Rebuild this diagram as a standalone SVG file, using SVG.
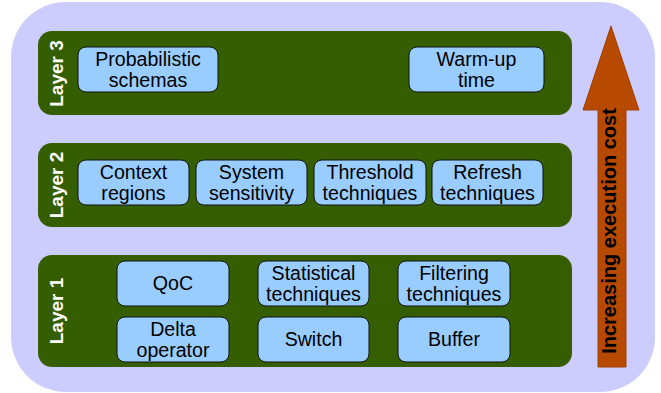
<svg xmlns="http://www.w3.org/2000/svg" width="661" height="393" viewBox="0 0 661 393">
<style>
.bg{fill:#CCCCFF;}
.layer{fill:#355E00;}
.box{fill:#99CCFF;stroke:#111;stroke-width:1;}
.t{font-family:"Liberation Sans",Arial,sans-serif;font-size:19.6px;fill:#000;text-anchor:middle;}
.lt{font-family:"Liberation Sans",Arial,sans-serif;font-size:19px;font-weight:bold;fill:#fff;text-anchor:middle;}
.at{font-family:"Liberation Sans",Arial,sans-serif;font-size:20px;font-weight:bold;fill:#000;text-anchor:middle;}
</style>
<rect class="bg" x="11" y="2" width="644" height="390" rx="55" ry="55"/>
<g id="layer3">
<rect class="layer" x="38" y="31" width="534" height="84" rx="14"/>
<text class="lt" transform="translate(63,73.5) rotate(-90)">Layer 3</text>
</g>
<g id="layer2">
<rect class="layer" x="38" y="143" width="534" height="84" rx="14"/>
<text class="lt" transform="translate(63,185) rotate(-90)">Layer 2</text>
</g>
<g id="layer1">
<rect class="layer" x="38" y="255" width="534" height="112" rx="14"/>
<text class="lt" transform="translate(63,311) rotate(-90)">Layer 1</text>
</g>
<g id="probabilistic">
<rect class="box" x="78" y="47" width="140" height="45" rx="8"/>
<text class="t" x="148" y="66">Probabilistic</text>
<text class="t" x="148" y="87">schemas</text>
</g>
<g id="warmup">
<rect class="box" x="409" y="47" width="135" height="45" rx="8"/>
<text class="t" x="476.5" y="66">Warm-up</text>
<text class="t" x="476.5" y="87">time</text>
</g>
<g id="context">
<rect class="box" x="78" y="160" width="111" height="45" rx="8"/>
<text class="t" x="133.5" y="179">Context</text>
<text class="t" x="133.5" y="200">regions</text>
</g>
<g id="system">
<rect class="box" x="196" y="160" width="111" height="45" rx="8"/>
<text class="t" x="251.5" y="179">System</text>
<text class="t" x="251.5" y="200">sensitivity</text>
</g>
<g id="threshold">
<rect class="box" x="314" y="160" width="112" height="45" rx="8"/>
<text class="t" x="370" y="179">Threshold</text>
<text class="t" x="370" y="200">techniques</text>
</g>
<g id="refresh">
<rect class="box" x="432" y="160" width="111" height="45" rx="8"/>
<text class="t" x="487.5" y="179">Refresh</text>
<text class="t" x="487.5" y="200">techniques</text>
</g>
<g id="qoc">
<rect class="box" x="117" y="261" width="112" height="45" rx="8"/>
<text class="t" x="173" y="290">QoC</text>
</g>
<g id="statistical">
<rect class="box" x="258" y="261" width="111" height="45" rx="8"/>
<text class="t" x="313.5" y="280">Statistical</text>
<text class="t" x="313.5" y="301">techniques</text>
</g>
<g id="filtering">
<rect class="box" x="398" y="261" width="112" height="45" rx="8"/>
<text class="t" x="454" y="280">Filtering</text>
<text class="t" x="454" y="301">techniques</text>
</g>
<g id="delta">
<rect class="box" x="117" y="317" width="112" height="45" rx="8"/>
<text class="t" x="173" y="336">Delta</text>
<text class="t" x="173" y="357">operator</text>
</g>
<g id="switch">
<rect class="box" x="258" y="317" width="111" height="45" rx="8"/>
<text class="t" x="313.5" y="346">Switch</text>
</g>
<g id="buffer">
<rect class="box" x="398" y="317" width="112" height="45" rx="8"/>
<text class="t" x="454" y="346">Buffer</text>
</g>
<g id="connectors">
<g id="cost-arrow">
<polygon points="611,26 639,110 626,110 626,367 598,367 598,110 583,110" fill="#B84A00" stroke="#A04000" stroke-width="1"/>
<text class="at" transform="translate(616,231) rotate(-90)">Increasing execution cost</text>
</g>
</g>
</svg>
